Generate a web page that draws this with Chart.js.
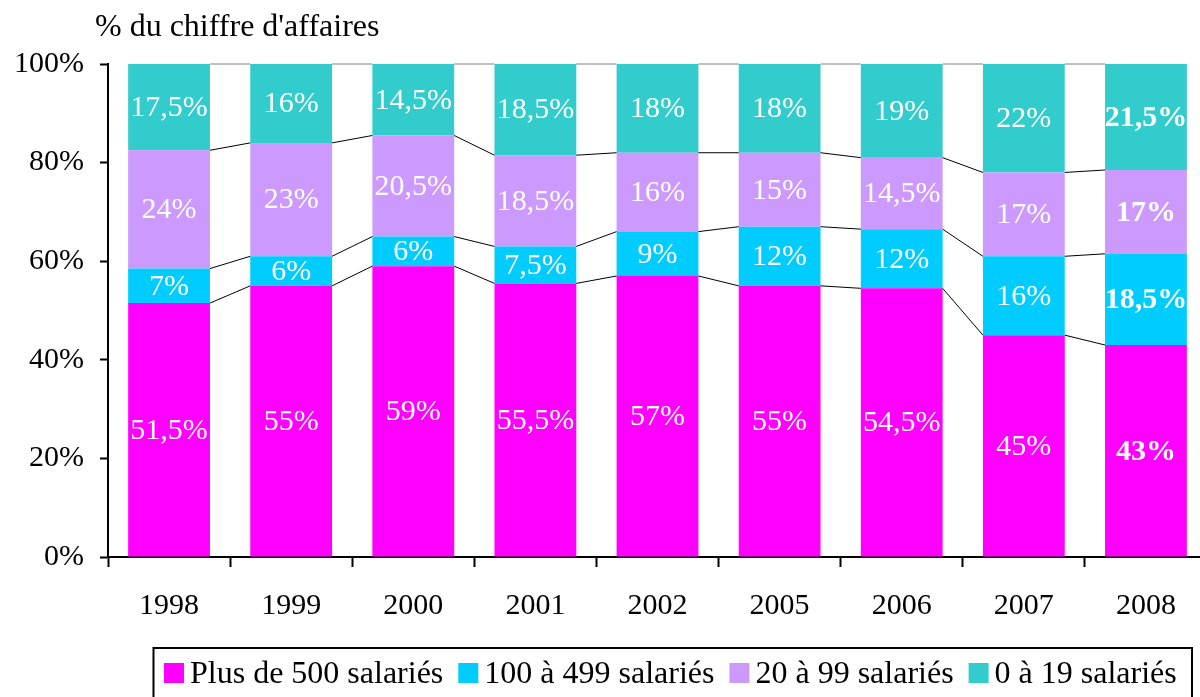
<!DOCTYPE html>
<html>
<head>
<meta charset="utf-8">
<script src="https://cdn.jsdelivr.net/npm/chart.js@4.4.1/dist/chart.umd.min.js"></script>
<style>
  html, body { margin: 0; padding: 0; background: #fff; overflow: hidden; }
  #wrap { width: 1200px; height: 697px; overflow: hidden; }
</style>
</head>
<body>
<div id="wrap"><canvas id="repartition" width="1210" height="697"></canvas></div>
<script>
// Données (en % du chiffre d'affaires)
const annees = ["1998", "1999", "2000", "2001", "2002", "2005", "2006", "2007", "2008"];
const plus500 = [51.5, 55, 59, 55.5, 57, 55, 54.5, 45, 43];
const de100a499 = [7, 6, 6, 7.5, 9, 12, 12, 16, 18.5];
const de20a99 = [24, 23, 20.5, 18.5, 16, 15, 14.5, 17, 17];
const de0a19 = [17.5, 16, 14.5, 18.5, 18, 18, 19, 22, 21.5];
const nomsSeries = ["Plus de 500 salariés", "100 à 499 salariés", "20 à 99 salariés", "0 à 19 salariés"];
const couleurs = ["#FF00FF", "#00CCFF", "#CC99FF", "#33CCCC"];
const ticksY = [0, 20, 40, 60, 80, 100];
const titreAxe = "% du chiffre d'affaires";

const SERIF = "'Liberation Serif', 'Times New Roman', serif";
Chart.defaults.font.family = SERIF;
Chart.defaults.color = "#000";

const ctx = document.getElementById("repartition").getContext("2d");

function fmt(v) {
  return String(v).replace(".", ",") + "%";
}

// lignes de séries entre les barres (comme Excel)
const lignesSeries = {
  id: "lignesSeries",
  afterDatasetsDraw(chart) {
    const c = chart.ctx;
    c.save();
    c.lineWidth = 1;
    chart.data.datasets.forEach((ds, d) => {
      const meta = chart.getDatasetMeta(d);
      c.strokeStyle = d === chart.data.datasets.length - 1 ? "#808080" : "#000";
      for (let i = 0; i < meta.data.length - 1; i++) {
        const a = meta.data[i].getProps(["x", "y", "width"], true);
        const b = meta.data[i + 1].getProps(["x", "y", "width"], true);
        c.beginPath();
        c.moveTo(a.x + a.width / 2, a.y);
        c.lineTo(b.x - b.width / 2, b.y);
        c.stroke();
      }
    });
    c.restore();
  },
};

// étiquettes de valeurs au centre des segments
const etiquettes = {
  id: "etiquettes",
  afterDatasetsDraw(chart) {
    const c = chart.ctx;
    c.save();
    c.fillStyle = "#fff";
    c.textAlign = "center";
    c.textBaseline = "middle";
    chart.data.datasets.forEach((ds, d) => {
      const meta = chart.getDatasetMeta(d);
      meta.data.forEach((bar, i) => {
        const p = bar.getProps(["x", "y", "base"], true);
        const dernier = i === meta.data.length - 1;
        c.font = (dernier ? "bold " : "") + "30px " + SERIF;
        c.fillText(fmt(ds.data[i]), p.x, (p.y + p.base) / 2 + 1);
      });
    });
    c.restore();
  },
};

// titre de l'axe + légende encadrée
const decor = {
  id: "decor",
  afterDraw(chart) {
    const c = chart.ctx;
    c.save();
    c.fillStyle = "#000";
    c.font = "32px " + SERIF;
    c.textAlign = "left";
    c.textBaseline = "alphabetic";
    c.fillText(titreAxe, 95, 36);

    // cadre de la légende
    c.strokeStyle = "#000";
    c.lineWidth = 2;
    c.strokeRect(153.5, 648, 1192 - 153.5, 70);

    // éléments de la légende
    c.font = "32px " + SERIF;
    let x = 164;
    chart.data.datasets.forEach((ds) => {
      c.fillStyle = ds.backgroundColor;
      c.fillRect(x, 663, 20, 20);
      x += 26;
      c.fillStyle = "#000";
      c.fillText(ds.label, x, 683);
      x += c.measureText(ds.label).width + 15;
    });
    c.restore();
  },
};

new Chart(ctx, {
  type: "bar",
  data: {
    labels: annees,
    datasets: [plus500, de100a499, de20a99, de0a19].map((vals, k) => ({
      label: nomsSeries[k],
      data: vals,
      backgroundColor: couleurs[k],
      borderWidth: 0,
      barPercentage: 1,
      categoryPercentage: 0.67,
    })),
  },
  options: {
    responsive: false,
    animation: false,
    layout: { padding: { top: 64, left: 0, right: 3, bottom: 0 } },
    plugins: {
      legend: { display: false },
      tooltip: { enabled: false },
      title: { display: false },
    },
    scales: {
      x: {
        stacked: true,
        grid: {
          offset: true,
          drawOnChartArea: false,
          tickLength: 10,
          tickColor: "#000",
          tickWidth: 2,
        },
        border: { color: "#000", width: 2 },
        ticks: { font: { size: 30 }, color: "#000", padding: 21, maxRotation: 0 },
        afterFit(scale) {
          scale.height = 140;
        },
      },
      y: {
        stacked: true,
        min: 0,
        max: 100,
        afterBuildTicks(scale) {
          scale.ticks = ticksY.map((v) => ({ value: v }));
        },
        grid: {
          drawOnChartArea: false,
          tickLength: 8,
          tickColor: "#000",
          tickWidth: 2,
        },
        border: { color: "#000", width: 2 },
        ticks: {
          font: { size: 30 },
          color: "#000",
          padding: 16,
          callback: (v) => v + "%",
        },
        afterFit(scale) {
          scale.width = 108;
        },
      },
    },
  },
  plugins: [lignesSeries, etiquettes, decor],
});
</script>
</body>
</html>
